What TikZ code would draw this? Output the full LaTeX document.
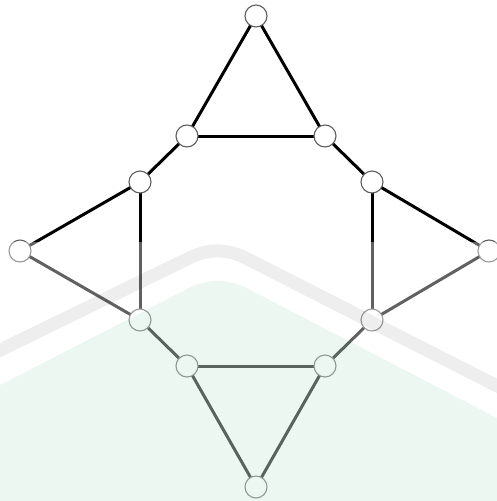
\documentclass[tikz,border=0pt]{standalone}
\definecolor{vborder}{RGB}{95,95,95}
\definecolor{wmgreen}{RGB}{0,150,70}
\pgfdeclarelayer{back}
\pgfdeclarelayer{edges}
\pgfsetlayers{back,edges,main}
\begin{document}
\begin{tikzpicture}[x=1pt,y=-1pt,
  vtx/.style={circle,draw=vborder,line width=1.1pt,fill=white,minimum size=22pt,inner sep=0pt},
  edge/.style={line width=3pt,black}]
\useasboundingbox (0,0) rectangle (497,501);
\begin{pgfonlayer}{back}
\fill[white] (0,0) rectangle (497,501);
\end{pgfonlayer}
\node[vtx] (t)  at (256,16) {};
\node[vtx] (a1) at (187,136) {};
\node[vtx] (a2) at (325,136) {};
\node[vtx] (b1) at (140,182) {};
\node[vtx] (b2) at (372,182) {};
\node[vtx] (l)  at (20,251) {};
\node[vtx] (r)  at (489,251) {};
\node[vtx] (c1) at (140,320) {};
\node[vtx] (c2) at (372,320) {};
\node[vtx] (d1) at (187,366) {};
\node[vtx] (d2) at (325,366) {};
\node[vtx] (bt) at (256,487) {};
\begin{pgfonlayer}{edges}
\draw[edge] (t.center) -- (a1.center);
\draw[edge] (t.center) -- (a2.center);
\draw[edge] (a1.center) -- (a2.center);
\draw[edge] (a1.center) -- (b1.center);
\draw[edge] (a2.center) -- (b2.center);
\draw[edge] (b1.center) -- (l.center);
\draw[edge] (b1.center) -- (c1.center);
\draw[edge] (l.center) -- (c1.center);
\draw[edge] (b2.center) -- (r.center);
\draw[edge] (b2.center) -- (c2.center);
\draw[edge] (r.center) -- (c2.center);
\draw[edge] (c1.center) -- (d1.center);
\draw[edge] (c2.center) -- (d2.center);
\draw[edge] (d1.center) -- (d2.center);
\draw[edge] (d1.center) -- (bt.center);
\draw[edge] (d2.center) -- (bt.center);
\end{pgfonlayer}
% watermark overlay
\fill[white,opacity=0.38] (0,242) rectangle (497,501);
\draw[black,opacity=0.065,line width=13pt] (-10,355) -- (190,257.6) .. controls (208.7,248.5) and (227.3,248.7) .. (246,258.2) -- (507,391);
\fill[wmgreen,opacity=0.075] (-10,390.2) -- (188,288.6) .. controls (208,278.3) and (228,278.4) .. (248,288.8) -- (507,423.2) -- (507,510) -- (-10,510) -- cycle;
\end{tikzpicture}
\end{document}
